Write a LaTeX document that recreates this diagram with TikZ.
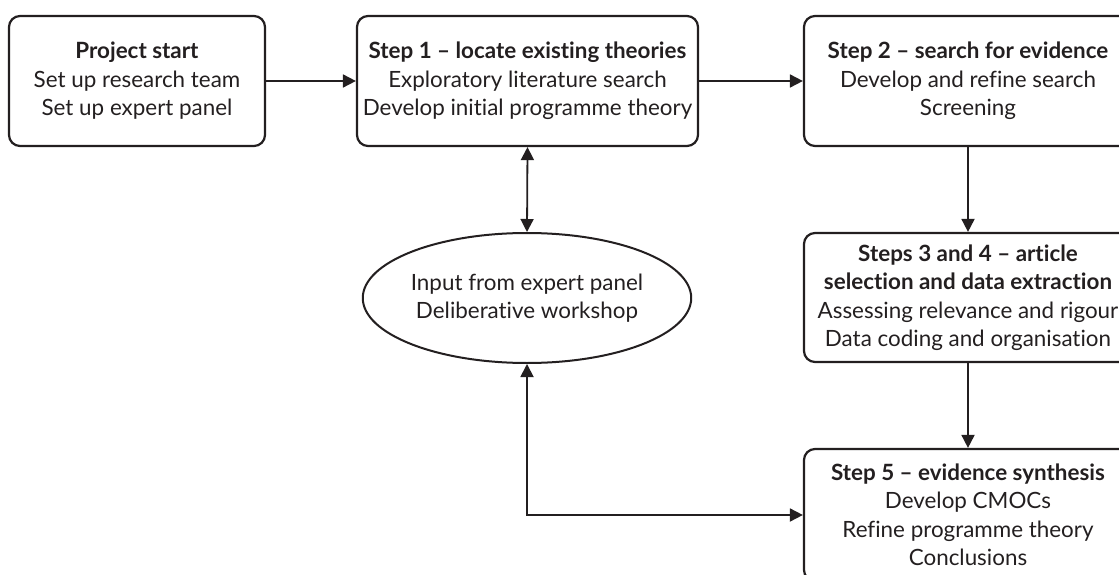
\documentclass[tikz,border=0pt]{standalone}
\usepackage{fontspec}
\setmainfont[Ligatures=NoCommon]{Lato}
\usetikzlibrary{arrows.meta,shapes.geometric}
\definecolor{ink}{HTML}{231F20}
\begin{document}
\begin{tikzpicture}[x=1pt,y=-1pt,
  txt/.style={align=center, text=ink, font=\fontsize{22.4}{28.5}\selectfont, inner sep=0pt},
  stage/.style={txt, draw=ink, line width=2.2pt, rounded corners=11pt},
  hub/.style={txt, draw=ink, line width=2pt, ellipse, minimum width=300pt, minimum height=130pt},
  tip/.tip={Triangle[length=13pt,width=13pt]},
  link/.style={draw=ink, line width=1.8pt, -tip},
  twoway/.style={draw=ink, line width=1.8pt, tip-tip}]
\path[use as bounding box, clip] (0,0) rectangle (1119,575);

\node[stage, minimum width=256pt, minimum height=130pt] (start) at (137,81)
  {\textbf{Project start}\\Set up research team\\Set up expert panel};
\node[stage, minimum width=341pt, minimum height=130pt] (s1) at (527.5,81)
  {\textbf{Step 1 – locate existing theories}\\Exploratory literature search\\Develop initial programme theory};
\node[stage, minimum width=328pt, minimum height=130pt] (s2) at (968,81)
  {\textbf{Step 2 – search for evidence}\\Develop and refine search\\Screening};
\node[stage, minimum width=328pt, minimum height=129pt] (s34) at (968,297.5)
  {\textbf{Steps 3 and 4 – article}\\\textbf{selection and data extraction}\\Assessing relevance and rigour\\Data coding and organisation};
\node[stage, minimum width=328pt, minimum height=132pt] (s5) at (968,515)
  {\textbf{Step 5 – evidence synthesis}\\Develop CMOCs\\Refine programme theory\\Conclusions};
\node[hub] (panel) at (527,298)
  {Input from expert panel\\Deliberative workshop};

\draw[link] (start.east) -- (s1.west);
\draw[link] (s1.east) -- (s2.west);
\draw[link] (s2.south) -- (s34.north);
\draw[link] (s34.south) -- (s5.north);
\draw[twoway] (s1.south) -- (panel.north);
\draw[twoway] (panel.south) |- (s5.west);
\end{tikzpicture}
\end{document}
